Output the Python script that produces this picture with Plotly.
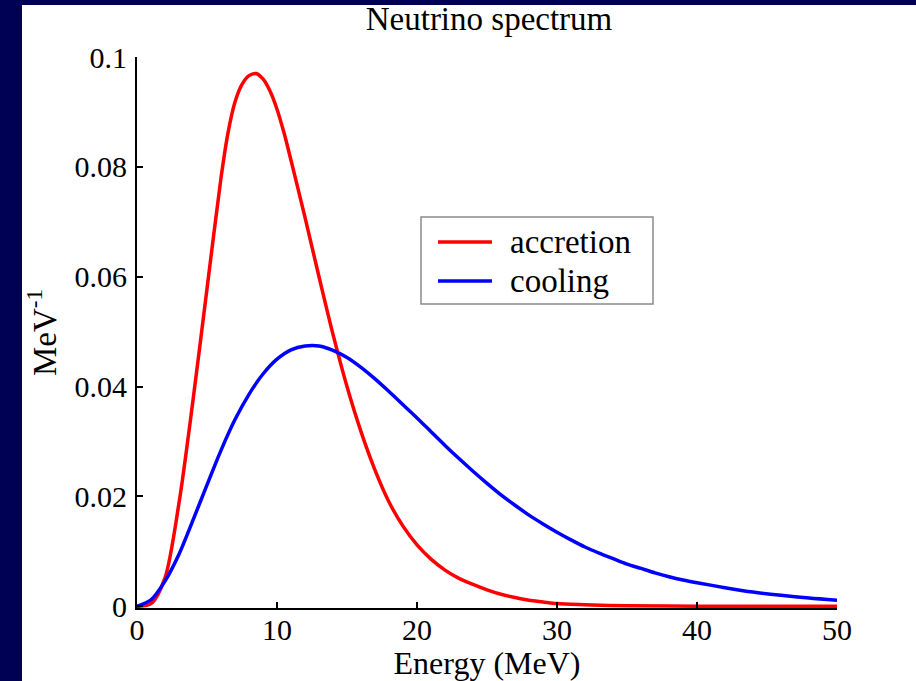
import plotly.graph_objects as go

# Energy grid (MeV) and spectra (MeV^-1) for the two emission phases
accretion_E = [0, 1, 2, 3, 4, 5, 6, 6.5, 7, 7.5, 8, 8.5, 9, 9.5, 10, 10.5,
               11, 12, 13, 14, 15, 16, 17, 18, 19, 20, 21, 22, 23, 24, 25,
               26, 27, 28, 29, 30, 32, 35, 40, 50]
accretion_f = [0, 0.0005, 0.0052, 0.0188, 0.0375, 0.0578, 0.0780, 0.0862,
               0.0918, 0.0950, 0.0966, 0.0970, 0.0960, 0.0938, 0.0905,
               0.0862, 0.0812, 0.0708, 0.0600, 0.0495, 0.0400, 0.0318,
               0.0248, 0.0190, 0.0146, 0.0112, 0.0086, 0.0066, 0.0051,
               0.0040, 0.0030, 0.0022, 0.0016, 0.0011, 0.0008, 0.0005,
               0.0003, 0.0001, 0.00003, 0]

cooling_E = [0, 1, 2, 3, 4, 5, 6, 7, 8, 9, 10, 11, 12, 13, 14, 15, 16, 17,
             18, 19, 20, 21, 22, 23, 24, 25, 26, 27, 28, 29, 30, 31, 32, 33,
             34, 35, 36, 37, 38, 39, 40, 42, 44, 46, 48, 50]
cooling_f = [0, 0.0012, 0.0046, 0.0095, 0.0157, 0.0221, 0.0284, 0.0340,
             0.0386, 0.0423, 0.0450, 0.0467, 0.0474, 0.0474, 0.0466,
             0.0453, 0.0435, 0.0414, 0.0391, 0.0367, 0.0343, 0.0318,
             0.0293, 0.0269, 0.0246, 0.0224, 0.0203, 0.0184, 0.0166,
             0.0150, 0.0135, 0.0121, 0.0108, 0.0097, 0.0087, 0.0077,
             0.0069, 0.0061, 0.0054, 0.0048, 0.0043, 0.0034, 0.0026,
             0.0020, 0.0015, 0.0011]

series_names = ["accretion", "cooling"]
series_colors = ["#ff0000", "#0000ff"]

x_ticks = [0, 10, 20, 30, 40, 50]
y_ticks = [0, 0.02, 0.04, 0.06, 0.08, 0.1]
y_tick_text = ["0", "0.02", "0.04", "0.06", "0.08", "0.1"]

W, H = 916, 681
ML, MR, MT, MB = 137, 79, 57, 73
FONT = "Liberation Serif, Times New Roman, serif"
NAVY = "#000055"


def px_x(px):
    return (px - ML) / (W - ML - MR)


def px_y(py):
    return (H - MB - py) / (H - MT - MB)


fig = go.Figure()
for E, f, name, col in zip([accretion_E, cooling_E], [accretion_f, cooling_f],
                           series_names, series_colors):
    fig.add_trace(go.Scatter(x=E, y=f, mode="lines", name=name,
                             line=dict(color=col, width=3.5, shape="spline",
                                       smoothing=0.8),
                             showlegend=False))

axis_common = dict(showline=True, linecolor="black", linewidth=2,
                   ticks="inside", ticklen=6, tickwidth=2, tickcolor="black",
                   showgrid=False, zeroline=False, automargin=False,
                   tickfont=dict(family=FONT, size=30, color="black"))

fig.update_xaxes(range=[0, 50], tickvals=x_ticks, ticklabelstandoff=-6,
                 **axis_common,
                 title=dict(text="Energy (MeV)", standoff=0,
                            font=dict(family=FONT, size=32, color="black")))
fig.update_yaxes(range=[-0.0003, 0.1], tickvals=y_ticks, ticktext=y_tick_text,
                 ticklabelstandoff=2, **axis_common,
                 title=dict(text="MeV<sup>-1</sup>", standoff=8,
                            font=dict(family=FONT, size=33, color="black")))

# dark slide frame along the left and top edges
shapes = [
    dict(type="rect", xref="paper", yref="paper", layer="below",
         x0=px_x(-5), x1=px_x(22), y0=px_y(H + 5), y1=px_y(-5),
         fillcolor=NAVY, line=dict(width=0)),
    dict(type="rect", xref="paper", yref="paper", layer="below",
         x0=px_x(-5), x1=px_x(W + 5), y0=px_y(5), y1=px_y(-5),
         fillcolor=NAVY, line=dict(width=0)),
]

# legend box with line samples
lx0, lx1, ly0, ly1 = 421, 653, 217, 304
shapes.append(dict(type="rect", xref="paper", yref="paper",
                   x0=px_x(lx0), x1=px_x(lx1), y0=px_y(ly1), y1=px_y(ly0),
                   fillcolor="white", line=dict(color="#8a8a8a", width=1.5)))
annotations = []
for name, col, ly in zip(series_names, series_colors, [242, 281]):
    shapes.append(dict(type="line", xref="paper", yref="paper",
                       x0=px_x(438), x1=px_x(492), y0=px_y(ly), y1=px_y(ly),
                       line=dict(color=col, width=3.5)))
    annotations.append(dict(xref="paper", yref="paper", x=px_x(508),
                            y=px_y(ly), xanchor="left", yanchor="middle",
                            text=name, showarrow=False,
                            font=dict(family=FONT, size=33, color="black")))

fig.update_layout(
    width=W, height=H,
    margin=dict(l=ML, r=MR, t=MT, b=MB, pad=0),
    paper_bgcolor="white", plot_bgcolor="white",
    title=dict(text="Neutrino spectrum", x=489 / W, xanchor="center",
               yref="container", y=1 - 18 / H, yanchor="middle",
               font=dict(family=FONT, size=33, color="black")),
    shapes=shapes, annotations=annotations,
)

fig.write_html("out.html")
